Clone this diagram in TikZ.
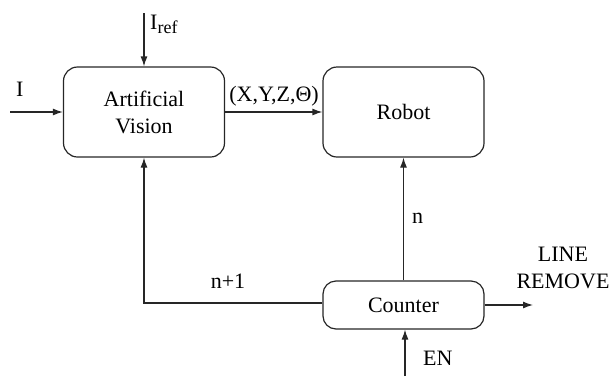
\documentclass[tikz,border=0pt]{standalone}
\usepackage{fontspec}
\setmainfont{Liberation Serif}
\usetikzlibrary{arrows.meta}
\begin{document}
\begin{tikzpicture}[x=1pt,y=-1pt,
  blk/.style={draw=black!85, line width=1.2pt, rounded corners=14pt, minimum width=161pt, inner sep=0pt, align=center},
  lbl/.style={inner sep=0pt, font=\fontsize{22}{26}\selectfont},
  conn/.style={draw=black!85, line width=1.2pt, -{Latex[length=10pt,width=7pt]}},
  every node/.style={font=\fontsize{22}{27}\selectfont}]
\useasboundingbox (0,0) rectangle (611,376);
\node[blk, minimum height=90pt] (av) at (144,112) {Artificial\\Vision};
\node[blk, minimum height=90pt] (rb) at (403.5,112) {Robot};
\node[blk, minimum height=48pt, rounded corners=13pt] (ct) at (403.5,305) {Counter};
\coordinate (iin) at (10,112);
\coordinate (iref) at (144,13);
\coordinate (lr) at (533,305);
\coordinate (en) at (405,376);
\coordinate (fb) at (144,303);
\draw[conn] (iin) -- (av.west);
\draw[conn] (iref) -- (av.north);
\draw[conn] (av.east) -- (rb.west);
\draw[conn] (ct.north) -- (rb.south);
\draw[conn] (ct.east) -- (lr);
\draw[conn] (en) -- (en |- ct.south);
\draw[conn] (ct.west |- fb) -- (fb) -- (av.south);
\node[lbl, anchor=base west] (li) at (16,96) {I};
\node[lbl, anchor=base west] (lref) at (150,29) {I\raisebox{-4pt}{\fontsize{18}{20}\selectfont ref}};
\node[lbl, anchor=base] (lxy) at (274,101) {(X,Y,Z,Θ)};
\node[lbl, anchor=base west] (ln) at (412,223) {n};
\node[lbl, anchor=base] (lnp) at (228,288) {n+1};
\node[lbl, anchor=base west] (len) at (423,365) {EN};
\node[lbl, align=center, anchor=center, font=\fontsize{22}{27}\selectfont] (lline) at (563,268) {LINE\\REMOVE};
\end{tikzpicture}
\end{document}
